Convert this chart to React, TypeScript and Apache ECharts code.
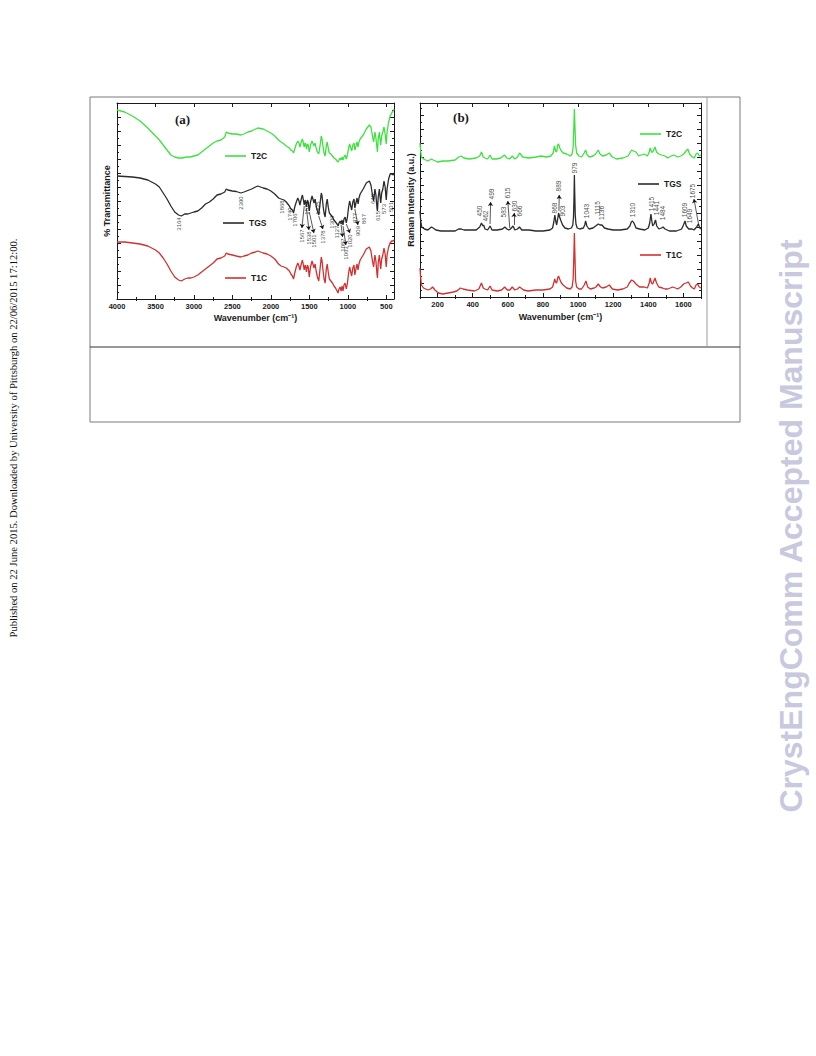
import React, { useEffect, useRef } from 'react';
import * as echarts from 'echarts';

// ---------- FTIR (a) : [wavenumber, offset transmittance] ----------
const ftirT2C: [number, number][] = [
  [4000,189],[3900,187],[3800,183],[3700,178],[3600,171],[3500,163],[3450,159],[3400,154],[3350,149],[3300,144],[3250,142],[3200,141],[3150,141],[3100,142],[3050,142],[3000,143],[2950,144],[2900,147],[2850,150],[2800,153],[2750,156],[2700,158],[2650,159],[2600,162],[2580,167],[2560,166],[2500,165],[2450,165],[2390,164],[2350,165],[2300,167],[2250,168],[2200,170],[2170,171],[2100,170],[2050,168],[2000,166],[1950,163],[1900,159],[1868,157],[1830,155],[1800,153],[1760,151],[1740,149],[1720,148],[1706,146],[1690,150],[1670,155],[1650,158],[1635,156],[1623,152],[1605,157],[1590,160],[1575,155],[1567,152],[1555,156],[1545,154],[1538,150],[1525,155],[1515,154],[1501,147],[1485,154],[1465,158],[1450,155],[1440,153],[1425,156],[1410,150],[1395,147],[1378,145],[1360,154],[1345,163],[1335,160],[1320,151],[1309,146],[1295,143],[1280,153],[1268,157],[1255,151],[1240,146],[1220,145],[1200,143],[1180,141],[1160,140],[1140,138],[1127,137],[1115,139],[1100,141],[1087,139],[1075,142],[1063,139],[1050,142],[1035,144],[1020,140],[1005,144],[990,151],[977,155],[965,152],[950,148],[935,154],[920,156],[909,149],[895,153],[880,157],[867,152],[855,157],[840,160],[800,164],[760,170],[720,174],[700,172],[680,163],[665,157],[648,167],[635,161],[620,150],[615,147],[605,160],[590,167],[573,154],[560,163],[545,167],[530,172],[515,165],[501,155],[490,167],[470,177],[450,183],[430,186],[410,188],[400,190]
];
const ftirTGS: [number, number][] = [
  [4000,123],[3900,122.5],[3800,122],[3700,121],[3600,119],[3500,115],[3450,112],[3400,106],[3350,100],[3300,93],[3250,87],[3200,84],[3164,83],[3120,85],[3080,85],[3040,86],[3000,87],[2950,88],[2900,91],[2850,95],[2800,97],[2750,100],[2700,104],[2650,105],[2600,107],[2580,110],[2560,109],[2500,108],[2450,107.5],[2390,106],[2350,107],[2300,108.5],[2250,110],[2200,112],[2170,113],[2100,111],[2050,110],[2000,108],[1950,105],[1900,101],[1868,100],[1830,99],[1800,97],[1760,93],[1740,90],[1720,89],[1706,86],[1690,92],[1670,97],[1650,101],[1635,98],[1623,94],[1605,100],[1590,104],[1575,98],[1567,94],[1555,99],[1545,96],[1538,92],[1525,99],[1515,97],[1501,88],[1485,97],[1465,103],[1450,99],[1440,96],[1425,100],[1410,92],[1395,88],[1378,84],[1360,96],[1345,106],[1335,103],[1320,92],[1309,86],[1295,82],[1280,95],[1268,100],[1255,92],[1240,86],[1220,84],[1200,82],[1180,79],[1160,77],[1140,75],[1127,73],[1115,76],[1100,78],[1087,75],[1075,79],[1063,74],[1050,80],[1035,82],[1020,76],[1005,82],[990,92],[977,98],[965,94],[950,89],[935,97],[920,100],[909,91],[895,96],[880,101],[867,95],[855,101],[840,105],[800,110],[760,116],[720,118],[700,114],[680,104],[665,98],[648,110],[635,104],[620,90],[615,88],[605,102],[590,110],[573,96],[560,106],[545,110],[530,118],[515,112],[501,99],[490,110],[470,120],[450,125],[430,125],[410,124],[400,126]
];
const ftirT1C: [number, number][] = [
  [4000,57],[3900,57],[3800,56],[3700,55],[3600,53],[3500,49],[3450,46],[3400,41],[3350,35],[3300,28],[3250,22],[3200,19],[3164,18],[3120,20],[3080,21],[3040,21],[3000,22],[2950,24],[2900,27],[2850,30],[2800,33],[2750,36],[2700,40],[2650,41],[2600,43],[2580,46],[2560,45],[2500,44],[2450,43],[2390,42],[2350,43],[2300,44],[2250,46],[2200,47],[2170,48],[2100,46],[2050,45],[2000,43],[1950,40],[1900,35],[1868,33],[1830,32],[1800,31],[1760,28],[1740,25],[1720,23],[1706,20],[1690,26],[1670,32],[1650,36],[1635,33],[1623,29],[1605,35],[1590,39],[1575,33],[1567,29],[1555,34],[1545,31],[1538,27],[1525,34],[1515,32],[1501,22],[1485,32],[1465,38],[1450,34],[1440,31],[1425,35],[1410,27],[1395,22],[1378,18],[1360,31],[1345,42],[1335,38],[1320,27],[1309,20],[1295,16],[1280,30],[1268,35],[1255,27],[1240,20],[1220,18],[1200,16],[1180,13],[1160,11],[1140,8],[1127,6],[1115,10],[1100,12],[1087,8],[1075,13],[1063,8],[1050,14],[1035,16],[1020,10],[1005,16],[990,26],[977,32],[965,28],[950,23],[935,31],[920,34],[909,24],[895,30],[880,35],[867,29],[855,35],[840,39],[800,44],[760,50],[720,52],[700,48],[680,38],[665,32],[648,44],[635,38],[620,24],[615,21],[605,36],[590,44],[573,30],[560,40],[545,44],[530,51],[515,45],[501,32],[490,44],[470,52],[450,56],[430,58],[410,58],[400,59]
];

// ---------- Raman (b) : [Raman shift, offset intensity] ----------
const ramanT2C: [number, number][] = [
  [100,154],[103,147],[108,140],[120,138],[145,136],[165,138],[175,137],[200,135],[230,136],[260,136],[300,137],[320,140],[335,141],[350,139],[380,138],[420,139],[440,141],[450,145],[460,140],[470,139],[485,138],[499,142],[510,138],[535,138],[560,139],[580,142],[595,139],[610,138],[625,141],[640,138],[655,140],[667,144],[685,140],[720,139],[760,140],[790,141],[820,140],[845,141],[858,144],[866,151],[872,146],[878,145],[884,152],[889,153],[896,149],[905,146],[915,144],[935,143],[955,141],[966,143],[972,150],[976,170],[979,188],[982,172],[986,152],[992,144],[1005,141],[1020,140],[1035,144],[1043,147],[1052,142],[1065,140],[1085,141],[1100,143],[1115,147],[1125,143],[1140,141],[1160,142],[1178,144],[1195,140],[1220,138],[1255,139],[1285,141],[1298,145],[1305,147],[1315,146],[1330,145],[1345,141],[1360,142],[1377,143],[1395,141],[1405,145],[1411,149],[1418,145],[1425,145],[1438,150],[1447,145],[1460,143],[1476,142],[1495,141],[1510,139],[1530,141],[1545,142],[1567,140],[1585,141],[1601,143],[1615,146],[1625,148],[1635,143],[1650,140],[1662,139],[1672,143],[1681,144],[1690,141],[1700,142]
];
const ramanTGS: [number, number][] = [
  [100,86],[104,76],[110,70],[125,68],[145,67],[165,70],[175,69],[190,67],[220,66],[260,66],[300,66],[320,68],[335,68],[350,67],[380,67],[420,67],[440,70],[450,74],[458,71],[462,72],[470,68],[485,67],[499,71],[510,67],[540,67],[570,68],[583,70],[595,68],[605,67],[615,68],[630,71],[640,67],[655,68],[666,70],[680,67],[720,67],[760,66],[800,66],[840,67],[855,69],[862,75],[868,82],[873,76],[878,72],[884,78],[889,84],[895,80],[903,76],[912,72],[925,69],[945,68],[962,69],[970,72],[974,80],[977,100],[979,122],[981,104],[984,82],[988,73],[995,69],[1010,68],[1030,69],[1038,72],[1043,76],[1050,71],[1062,68],[1085,69],[1100,71],[1115,73],[1125,72],[1136,72],[1150,69],[1170,68],[1200,67],[1240,67],[1280,68],[1295,71],[1303,75],[1310,76],[1318,74],[1330,69],[1350,68],[1380,67],[1400,69],[1408,74],[1415,83],[1420,76],[1425,71],[1433,73],[1441,77],[1448,71],[1460,68],[1475,69],[1484,70],[1495,68],[1520,66],[1560,66],[1590,68],[1600,72],[1609,76],[1616,71],[1630,68],[1649,68],[1660,67],[1675,70],[1685,73],[1693,69],[1700,68]
];
const ramanT1C: [number, number][] = [
  [100,29],[103,21],[108,12],[120,9],[145,7],[160,8],[172,10],[185,7],[205,4],[230,3],[260,4],[290,5],[310,6],[330,9],[345,8],[370,7],[410,6],[435,8],[450,14],[460,9],[470,8],[485,7],[499,11],[510,7],[540,6],[565,7],[582,10],[597,7],[612,7],[625,10],[640,7],[655,8],[667,10],[690,7],[715,6],[760,7],[800,7],[840,8],[855,10],[863,15],[867,18],[872,15],[878,14],[884,19],[889,21],[895,18],[905,14],[915,12],[935,9],[955,8],[966,10],[972,18],[976,40],[979,64],[982,42],[986,16],[992,10],[1005,8],[1020,8],[1035,12],[1045,16],[1055,10],[1070,8],[1092,9],[1102,10],[1115,13],[1128,10],[1140,9],[1160,10],[1178,12],[1195,8],[1225,7],[1255,8],[1280,10],[1292,14],[1305,17],[1315,16],[1330,13],[1350,10],[1377,10],[1395,9],[1405,14],[1411,19],[1418,14],[1425,13],[1438,19],[1447,14],[1460,10],[1481,9],[1495,8],[1510,8],[1525,9],[1538,10],[1555,9],[1567,8],[1585,10],[1601,13],[1615,14],[1628,15],[1640,11],[1652,9],[1662,8],[1672,12],[1681,13],[1690,10],[1700,9]
];

// ---------- tick labels ----------
const ftirMajorTicks = [500, 1000, 1500, 2000, 2500, 3000, 3500, 4000];
const ftirMinorTicks = [750, 1250, 1750, 2250, 2750, 3250, 3750];
const ramanMajorTicks = [200, 400, 600, 800, 1000, 1200, 1400, 1600];
const ramanMinorTicks = [100, 300, 500, 700, 900, 1100, 1300, 1500, 1700];

// ---------- peak annotations: [label, x, y] ----------
const ftirPeakLabels: [string, number, number][] = [
  ['3164', 3194, 75], ['2390', 2388, 96], ['1868', 1855, 92], ['1740', 1751, 85], ['1706', 1686, 79],
  ['1567', 1599, 63], ['1523', 1534, 91], ['1538', 1504, 61], ['1501', 1439, 58], ['1425', 1387, 91],
  ['1378', 1322, 62], ['1309', 1209, 77], ['1127', 1144, 67], ['1087', 1066, 54], ['1063', 1023, 46],
  ['1020', 971, 58], ['977', 906, 81], ['909', 867, 68], ['867', 789, 80], ['648', 672, 100],
  ['615', 607, 83], ['573', 529, 90], ['501', 438, 92]
];
const ftirArrows: [number, number, number, number][] = [
  [1567, 93, 1597, 71], [1538, 91, 1506, 69], [1501, 87, 1441, 66], [1378, 83, 1324, 70],
  [1087, 74, 1068, 62], [1063, 73, 1025, 54], [1020, 75, 973, 66], [909, 90, 869, 74]
];
const ramanPeakLabels: [string, number, number][] = [
  ['450', 439, 86], ['462', 472, 81], ['499', 506, 103], ['583', 578, 85], ['615', 597, 104],
  ['630', 639, 91], ['666', 667, 86], ['868', 867, 89], ['889', 891, 111], ['903', 914, 86],
  ['979', 980, 129], ['1043', 1047, 86], ['1115', 1113, 89], ['1136', 1132, 84], ['1310', 1312, 87],
  ['1415', 1417, 93], ['1441', 1446, 89], ['1484', 1483, 84], ['1609', 1607, 87], ['1649', 1635, 81],
  ['1675', 1654, 106]
];
const ramanArrows: [number, number, number, number][] = [
  [499, 73, 502, 95], [611, 69, 600, 96], [634, 72, 636, 84], [891, 86, 893, 102], [1687, 72, 1660, 98]
];

const SANS = '"Liberation Sans", Arial, sans-serif';
const SERIF = '"Liberation Serif", "Times New Roman", serif';
const INK = '#1a1a1a';
const COLORS: Record<string, string> = { T2C: '#3ee23e', TGS: '#2b2b2b', T1C: '#d43030' };

function xAxesFor(gridIndex: number, min: number, max: number, inverse: boolean, majors: number[], minors: number[], nameGap: number) {
  const base = { type: 'value', gridIndex, min, max, inverse, splitLine: { show: false } };
  const line = { show: true, onZero: false, lineStyle: { color: INK, width: 1 } };
  return [
    {
      ...base, position: 'bottom', axisLine: line,
      axisTick: { show: true, inside: true, length: 4, customValues: majors, lineStyle: { color: INK } },
      axisLabel: { show: true, customValues: majors, margin: 3, fontSize: 7.5, fontWeight: 'bold', color: INK, fontFamily: SANS,
        formatter: (v: number) => String(v) },
      name: 'Wavenumber (cm⁻¹)', nameLocation: 'middle', nameGap,
      nameTextStyle: { fontSize: 9, fontWeight: 'bold', color: INK, fontFamily: SANS }
    },
    { ...base, position: 'bottom', axisLine: { show: false }, axisLabel: { show: false },
      axisTick: { show: true, inside: true, length: 2, customValues: minors, lineStyle: { color: INK } } },
    { ...base, position: 'top', axisLine: line, axisLabel: { show: false },
      axisTick: { show: true, inside: true, length: 4, customValues: majors, lineStyle: { color: INK } } },
    { ...base, position: 'top', axisLine: { show: false }, axisLabel: { show: false },
      axisTick: { show: true, inside: true, length: 2, customValues: minors, lineStyle: { color: INK } } }
  ];
}

function yAxesFor(gridIndex: number, max: number, name: string, nameGap: number) {
  const base = {
    type: 'value', gridIndex, min: 0, max, interval: 14, splitLine: { show: false },
    axisLine: { show: true, onZero: false, lineStyle: { color: INK, width: 1 } },
    axisTick: { show: true, inside: true, length: 4, lineStyle: { color: INK } },
    minorTick: { show: true, splitNumber: 2, length: 2, lineStyle: { color: INK } },
    axisLabel: { show: false }
  };
  return [
    { ...base, position: 'left', name, nameLocation: 'middle', nameGap, nameRotate: 90,
      nameTextStyle: { fontSize: 9, fontWeight: 'bold', color: INK, fontFamily: SANS } },
    { ...base, position: 'right' }
  ];
}

function lineSeries(name: string, data: [number, number][], xAxisIndex: number, yAxisIndex: number) {
  return {
    type: 'line', name, data, xAxisIndex, yAxisIndex, symbol: 'none', showSymbol: false,
    lineStyle: { color: COLORS[name], width: 1.3 }, itemStyle: { color: COLORS[name] },
    silent: true, z: 3
  };
}

function annotationSeries(id: string, labels: [string, number, number][], arrows: [number, number, number, number][], xAxisIndex: number, yAxisIndex: number, fontSize: number) {
  return {
    type: 'scatter', id, name: id, xAxisIndex, yAxisIndex, symbolSize: 1,
    itemStyle: { color: 'rgba(0,0,0,0)' }, silent: true, z: 5,
    data: labels.map(([t, x, y]) => ({ name: t, value: [x, y] })),
    label: { show: true, position: 'inside', rotate: 90, formatter: '{b}', fontSize, color: '#111', fontFamily: SANS },
    markLine: {
      silent: true, symbol: ['none', 'arrow'], symbolSize: 4, label: { show: false },
      lineStyle: { color: '#111', width: 0.7, type: 'solid' },
      data: arrows.map(([x1, y1, x2, y2]) => [{ coord: [x1, y1] }, { coord: [x2, y2] }])
    }
  };
}

function legendItem(name: string, left: number, top: number) {
  return {
    data: [name], left, top, padding: 0, itemWidth: 21, itemHeight: 1.6, icon: 'rect', selectedMode: false,
    itemStyle: { color: COLORS[name] },
    textStyle: { fontSize: 8.5, fontWeight: 'bold', color: INK, fontFamily: SANS, lineHeight: 12 }
  };
}

export default function App() {
  const ref = useRef<HTMLDivElement>(null);
  useEffect(() => {
    if (!ref.current) return;
    const chart = echarts.init(ref.current, null, { renderer: 'svg' });
    const option: any = {
      animation: false,
      backgroundColor: '#ffffff',
      grid: [
        { left: 117, top: 103, width: 277, height: 196 },
        { left: 420, top: 103, width: 281, height: 194 }
      ],
      xAxis: [
        ...xAxesFor(0, 400, 4000, true, ftirMajorTicks, ftirMinorTicks, 14),
        ...xAxesFor(1, 100, 1700, false, ramanMajorTicks, ramanMinorTicks, 15)
      ],
      yAxis: [
        ...yAxesFor(0, 196, '% Transmittance', 6),
        ...yAxesFor(1, 194, 'Raman Intensity (a.u.)', 5)
      ],
      legend: [
        legendItem('T2C', 225, 150), legendItem('TGS', 223, 217), legendItem('T1C', 225, 272),
        legendItem('T2C', 640, 128), legendItem('TGS', 638, 178), legendItem('T1C', 640, 249)
      ],
      series: [
        lineSeries('T2C', ftirT2C, 0, 0),
        lineSeries('TGS', ftirTGS, 0, 0),
        lineSeries('T1C', ftirT1C, 0, 0),
        lineSeries('T2C', ramanT2C, 4, 2),
        lineSeries('TGS', ramanTGS, 4, 2),
        lineSeries('T1C', ramanT1C, 4, 2),
        annotationSeries('ftirPeaks', ftirPeakLabels, ftirArrows, 0, 0, 6),
        annotationSeries('ramanPeaks', ramanPeakLabels, ramanArrows, 4, 2, 6.5)
      ],
      graphic: [
        { type: 'rect', shape: { x: 90, y: 97, width: 650, height: 325 }, style: { fill: 'none', stroke: '#7a7a7a', lineWidth: 1 }, silent: true },
        { type: 'line', shape: { x1: 90, y1: 347, x2: 740, y2: 347 }, style: { stroke: '#333', lineWidth: 1 }, silent: true },
        { type: 'line', shape: { x1: 707, y1: 97, x2: 707, y2: 347 }, style: { stroke: '#9a9a9a', lineWidth: 1 }, silent: true },
        { type: 'text', x: 182.5, y: 119, style: { text: '(a)', font: `bold 13px ${SERIF}`, fill: INK, align: 'center', verticalAlign: 'middle' }, silent: true },
        { type: 'text', x: 461, y: 117, style: { text: '(b)', font: `bold 13px ${SERIF}`, fill: INK, align: 'center', verticalAlign: 'middle' }, silent: true },
        { type: 'text', x: 13, y: 438, rotation: Math.PI / 2,
          style: { text: 'Published on 22 June 2015. Downloaded by University of Pittsburgh on 22/06/2015 17:12:00.', font: `10.6px ${SERIF}`, fill: '#111', align: 'center', verticalAlign: 'middle' }, silent: true },
        { type: 'text', x: 791, y: 526, rotation: Math.PI / 2,
          style: { text: 'CrystEngComm Accepted Manuscript', font: `bold 32px ${SANS}`, fill: '#c8c8de', align: 'center', verticalAlign: 'middle' }, silent: true }
      ]
    };
    chart.setOption(option);
    return () => chart.dispose();
  }, []);
  return <div ref={ref} style={{ position: 'absolute', left: 0, top: 0, width: 816, height: 1056, background: '#fff' }} />;
}
